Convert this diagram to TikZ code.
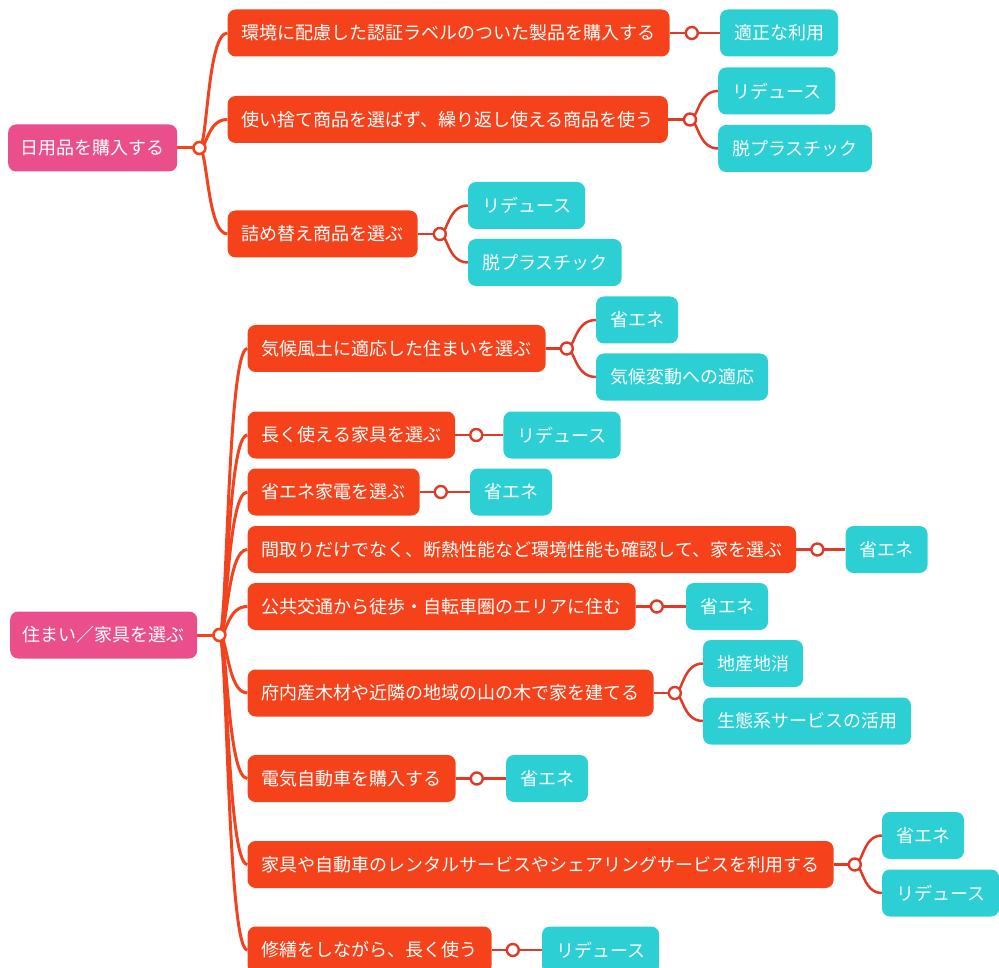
\documentclass[tikz,border=0pt]{standalone}
\usepackage{fontspec}
\newfontfamily\jp{Noto Sans CJK JP}
\usetikzlibrary{calc}
\pgfdeclarelayer{bg}
\pgfsetlayers{bg,main}
\definecolor{rootpink}{HTML}{EA4F8B}
\definecolor{midorange}{HTML}{F6421B}
\definecolor{leafteal}{HTML}{2CCFD4}
\definecolor{trunk}{HTML}{F2431E}
\definecolor{twig}{HTML}{DD3A28}
\tikzset{
  box/.style={rounded corners=8pt, text=white, anchor=west, inner xsep=14pt, inner ysep=0pt,
    minimum height=47pt, font=\jp\fontsize{18}{20}\selectfont},
  rootbox/.style={box, fill=rootpink, inner xsep=12.5pt},
  midbox/.style={box, fill=midorange},
  leafbox/.style={box, fill=leafteal},
  dot/.style={circle, draw, fill=white, minimum size=12pt, inner sep=0pt},
  rootdot/.style={dot, draw=trunk, line width=2.6pt},
  middot/.style={dot, draw=twig, line width=2.4pt},
  trunkline/.style={draw=trunk, line width=3pt},
  twigline/.style={draw=twig, line width=2.5pt},
  br/.style={to path={.. controls ($(\tikztostart)+(8,0)$) and ($(\tikztostart |- \tikztotarget)+(8,0)$) .. (\tikztotarget)}}
}
\begin{document}
\begin{tikzpicture}[x=1pt,y=-1pt]
\useasboundingbox (0,0) rectangle (999,968);

% ---------- group 1 ----------
\node[rootbox] (R1) at (8,148) {日用品を購入する};
\node[rootdot] (c0) at ($(R1.east)+(22,0)$) {};
\node[midbox] (A1) at ($(R1.east)+(50,-115)$) {環境に配慮した認証ラベルのついた製品を購入する};
\node[midbox] (A2) at ($(R1.east)+(50,-28.5)$) {使い捨て商品を選ばず、繰り返し使える商品を使う};
\node[midbox] (A3) at ($(R1.east)+(50,86)$) {詰め替え商品を選ぶ};

\node[middot] (c1) at ($(A1.east)+(22,0)$) {};
\node[leafbox] (L1) at ($(A1.east)+(50,0)$) {適正な利用};
\node[middot] (c2) at ($(A2.east)+(22,0)$) {};
\node[leafbox] (L2a) at ($(A2.east)+(50,-28.5)$) {リデュース};
\node[leafbox] (L2b) at ($(A2.east)+(50,29)$) {脱プラスチック};
\node[middot] (c3) at ($(A3.east)+(22,0)$) {};
\node[leafbox] (L3a) at ($(A3.east)+(50,-28.5)$) {リデュース};
\node[leafbox] (L3b) at ($(A3.east)+(50,28.5)$) {脱プラスチック};

% ---------- group 2 ----------
\node[rootbox] (R2) at (10,635) {住まい／家具を選ぶ};
\node[rootdot] (d0) at ($(R2.east)+(22,0)$) {};
\node[midbox] (B1) at ($(R2.east)+(50,-286.5)$) {気候風土に適応した住まいを選ぶ};
\node[midbox] (B2) at ($(R2.east)+(50,-200)$) {長く使える家具を選ぶ};
\node[midbox] (B3) at ($(R2.east)+(50,-143)$) {省エネ家電を選ぶ};
\node[midbox] (B4) at ($(R2.east)+(50,-85.5)$) {間取りだけでなく、断熱性能など環境性能も確認して、家を選ぶ};
\node[midbox] (B5) at ($(R2.east)+(50,-28.5)$) {公共交通から徒歩・自転車圏のエリアに住む};
\node[midbox] (B6) at ($(R2.east)+(50,58)$) {府内産木材や近隣の地域の山の木で家を建てる};
\node[midbox] (B7) at ($(R2.east)+(50,143.5)$) {電気自動車を購入する};
\node[midbox] (B8) at ($(R2.east)+(50,229.5)$) {家具や自動車のレンタルサービスやシェアリングサービスを利用する};
\node[midbox] (B9) at ($(R2.east)+(50,315)$) {修繕をしながら、長く使う};

\node[middot] (e1) at ($(B1.east)+(21,0)$) {};
\node[leafbox] (M1a) at ($(B1.east)+(50,-28.5)$) {省エネ};
\node[leafbox] (M1b) at ($(B1.east)+(50,28.5)$) {気候変動への適応};
\node[middot] (e2) at ($(B2.east)+(21,0)$) {};
\node[leafbox] (M2) at ($(B2.east)+(48,0)$) {リデュース};
\node[middot] (e3) at ($(B3.east)+(21,0)$) {};
\node[leafbox] (M3) at ($(B3.east)+(50,0)$) {省エネ};
\node[middot] (e4) at ($(B4.east)+(21,0)$) {};
\node[leafbox] (M4) at ($(B4.east)+(49,0)$) {省エネ};
\node[middot] (e5) at ($(B5.east)+(21,0)$) {};
\node[leafbox] (M5) at ($(B5.east)+(50,0)$) {省エネ};
\node[middot] (e6) at ($(B6.east)+(21,0)$) {};
\node[leafbox] (M6a) at ($(B6.east)+(49,-29.5)$) {地産地消};
\node[leafbox] (M6b) at ($(B6.east)+(49,28)$) {生態系サービスの活用};
\node[middot] (e7) at ($(B7.east)+(21,0)$) {};
\node[leafbox] (M7) at ($(B7.east)+(50,0)$) {省エネ};
\node[middot] (e8) at ($(B8.east)+(21,0)$) {};
\node[leafbox] (M8a) at ($(B8.east)+(48,-29)$) {省エネ};
\node[leafbox] (M8b) at ($(B8.east)+(48,28.5)$) {リデュース};
\node[middot] (e9) at ($(B9.east)+(21,0)$) {};
\node[leafbox] (M9) at ($(B9.east)+(50,0)$) {リデュース};

% ---------- connectors ----------
\begin{pgfonlayer}{bg}
  \draw[trunkline] (R1.east) -- (c0.center);
  \foreach \t in {A1,A2,A3} \draw[trunkline] (c0.center) to[br] (\t.west);
  \draw[trunkline] (R2.east) -- (d0.center);
  \foreach \t in {B1,B2,B3,B4,B5,B6,B7,B8,B9} \draw[trunkline] (d0.center) to[br] (\t.west);

  \draw[twigline] (A1.east) -- (c1.center) -- (L1.west);
  \draw[twigline] (A2.east) -- (c2.center);
  \foreach \t in {L2a,L2b} \draw[twigline] (c2.center) to[br] (\t.west);
  \draw[twigline] (A3.east) -- (c3.center);
  \foreach \t in {L3a,L3b} \draw[twigline] (c3.center) to[br] (\t.west);

  \draw[twigline] (B1.east) -- (e1.center);
  \foreach \t in {M1a,M1b} \draw[twigline] (e1.center) to[br] (\t.west);
  \draw[twigline] (B2.east) -- (e2.center) -- (M2.west);
  \draw[twigline] (B3.east) -- (e3.center) -- (M3.west);
  \draw[twigline] (B4.east) -- (e4.center) -- (M4.west);
  \draw[twigline] (B5.east) -- (e5.center) -- (M5.west);
  \draw[twigline] (B6.east) -- (e6.center);
  \foreach \t in {M6a,M6b} \draw[twigline] (e6.center) to[br] (\t.west);
  \draw[twigline] (B7.east) -- (e7.center) -- (M7.west);
  \draw[twigline] (B8.east) -- (e8.center);
  \foreach \t in {M8a,M8b} \draw[twigline] (e8.center) to[br] (\t.west);
  \draw[twigline] (B9.east) -- (e9.center) -- (M9.west);
\end{pgfonlayer}
\end{tikzpicture}
\end{document}
